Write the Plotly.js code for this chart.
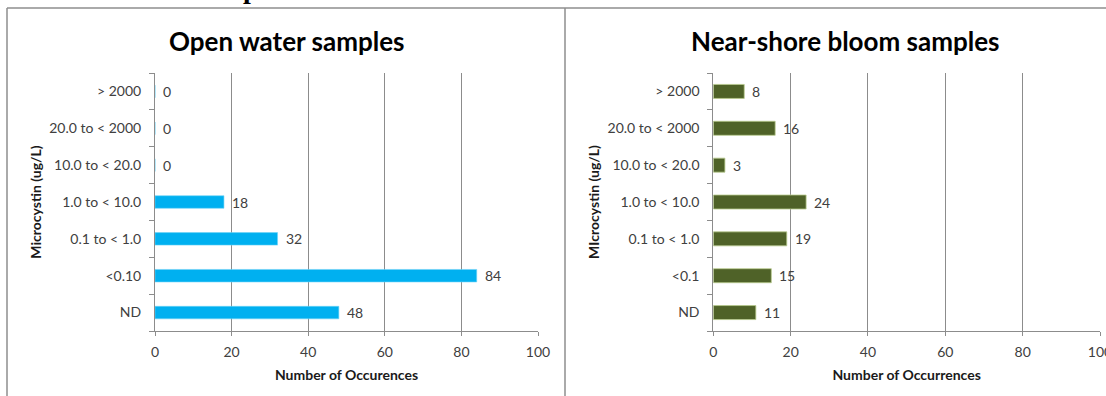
<!DOCTYPE html>
<html>
<head>
<meta charset="utf-8">
<script src="https://cdn.plot.ly/plotly-3.0.1.min.js"></script>
<style>html,body{margin:0;padding:0;background:#fff;}#chart{width:1106px;height:396px;}</style>
</head>
<body>
<div id="chart"></div>
<script>
// ---- data ----
const openCategories = ["ND", "<0.10", "0.1 to < 1.0", "1.0 to < 10.0", "10.0 to < 20.0", "20.0 to < 2000", "> 2000"];
const openCounts = [48, 84, 32, 18, 0, 0, 0];
const nearCategories = ["ND", "<0.1", "0.1 to < 1.0", "1.0 to < 10.0", "10.0 to < 20.0", "20.0 to < 2000", "> 2000"];
const nearCounts = [11, 15, 19, 24, 3, 16, 8];
const xTickValues = [0, 20, 40, 60, 80, 100];
const panelTitles = ["Open water samples", "Near-shore bloom samples"];
const yTitles = ["Microcystin (ug/L)", "MIcrocystin (ug/L)"];
const xTitles = ["Number of Occurences", "Number of Occurrences"];

// ---- layout helpers ----
const W = 1106, H = 396;
const px = v => v / W;
const py = v => 1 - v / H;
const FONT = "Lato, 'Open Sans', sans-serif";
const GRID = "#8c8c8c";
const TXT = "#404040";

const traces = [
  {type: "bar", orientation: "h", y: openCategories, x: openCounts, xaxis: "x", yaxis: "y",
   marker: {color: "#00B0F0", line: {color: "#6fd3f7", width: 0.6}}, width: 0.34, hoverinfo: "x+y"},
  {type: "bar", orientation: "h", y: nearCategories, x: nearCounts, xaxis: "x2", yaxis: "y2",
   marker: {color: "#4F6228", line: {color: "#b9cc8e", width: 0.8}}, width: 0.38, hoverinfo: "x+y"}
];

function xAxis(domain, title, anchor) {
  return {
    domain: domain, anchor: anchor, range: [0, 100], tickvals: xTickValues, ticktext: xTickValues.map(String),
    showgrid: true, gridcolor: GRID, gridwidth: 1, zeroline: false,
    showline: true, linecolor: GRID, linewidth: 1,
    ticks: "outside", ticklen: 4, tickcolor: GRID, ticklabelstandoff: 4, ticklabeloverflow: "allow",
    tickfont: {family: FONT, size: 14, color: TXT},
    title: {text: title, font: {family: FONT, size: 14, color: "#1a1a1a", weight: "bold"}, standoff: 11},
    fixedrange: true
  };
}
function yAxis(domain, cats, title, anchor) {
  return {
    domain: domain, anchor: anchor, type: "category", categoryorder: "array", categoryarray: cats,
    range: [-0.5, cats.length - 0.5],
    showgrid: false, zeroline: false, showline: true, linecolor: GRID, linewidth: 1,
    ticks: "outside", tickson: "boundaries", ticklen: 5, tickcolor: GRID,
    tickfont: {family: FONT, size: 14, color: TXT}, ticklabelstandoff: 10,
    title: {text: title, font: {family: FONT, size: 14, color: "#1a1a1a", weight: "bold"}, standoff: 4},
    fixedrange: true
  };
}

const yDom = [py(331), py(73)];
const layout = {
  width: W, height: H, margin: {l: 0, r: 0, t: 0, b: 0},
  paper_bgcolor: "#fff", plot_bgcolor: "rgba(0,0,0,0)",
  showlegend: false, bargap: 0.6,
  xaxis: xAxis([px(155), px(538)], xTitles[0], "y"),
  yaxis: yAxis(yDom, openCategories, yTitles[0], "x"),
  xaxis2: xAxis([px(713.3), px(1100)], xTitles[1], "y2"),
  yaxis2: yAxis(yDom, nearCategories, yTitles[1], "x2"),
  shapes: [
    {type: "line", xref: "paper", yref: "paper", x0: px(7), x1: px(7), y0: py(8), y1: py(400), line: {color: "#8e8e8e", width: 1.5}},
    {type: "line", xref: "paper", yref: "paper", x0: px(7), x1: px(1110), y0: py(8), y1: py(8), line: {color: "#8e8e8e", width: 1.5}},
    {type: "line", xref: "paper", yref: "paper", x0: px(565), x1: px(565), y0: py(8), y1: py(400), line: {color: "#8e8e8e", width: 1.5}}
  ],
  annotations: []
};

// panel titles
[[286, panelTitles[0]], [845, panelTitles[1]]].forEach(([cx, t]) => {
  layout.annotations.push({xref: "paper", yref: "paper", x: px(cx), y: py(41), xanchor: "center", yanchor: "middle",
    text: t, showarrow: false, font: {family: FONT, size: 26, color: "#000", weight: "bold"}});
});
// cut-off heading fragment at top edge
layout.annotations.push({xref: "paper", yref: "paper", x: px(251), y: py(6), xanchor: "center", yanchor: "bottom",
  text: "p", showarrow: false, font: {family: "'Liberation Serif', serif", size: 28, color: "#000", weight: "bold"}});

// value labels
openCounts.forEach((v, i) => layout.annotations.push({xref: "x", yref: "y", x: v, y: openCategories[i], xanchor: "left", yanchor: "middle",
  xshift: 6, text: String(v), showarrow: false, font: {family: FONT, size: 14, color: TXT}}));
nearCounts.forEach((v, i) => layout.annotations.push({xref: "x2", yref: "y2", x: v, y: nearCategories[i], xanchor: "left", yanchor: "middle",
  xshift: 6, text: String(v), showarrow: false, font: {family: FONT, size: 14, color: TXT}}));

Plotly.newPlot("chart", traces, layout, {displayModeBar: false, staticPlot: true});
</script>
</body>
</html>
